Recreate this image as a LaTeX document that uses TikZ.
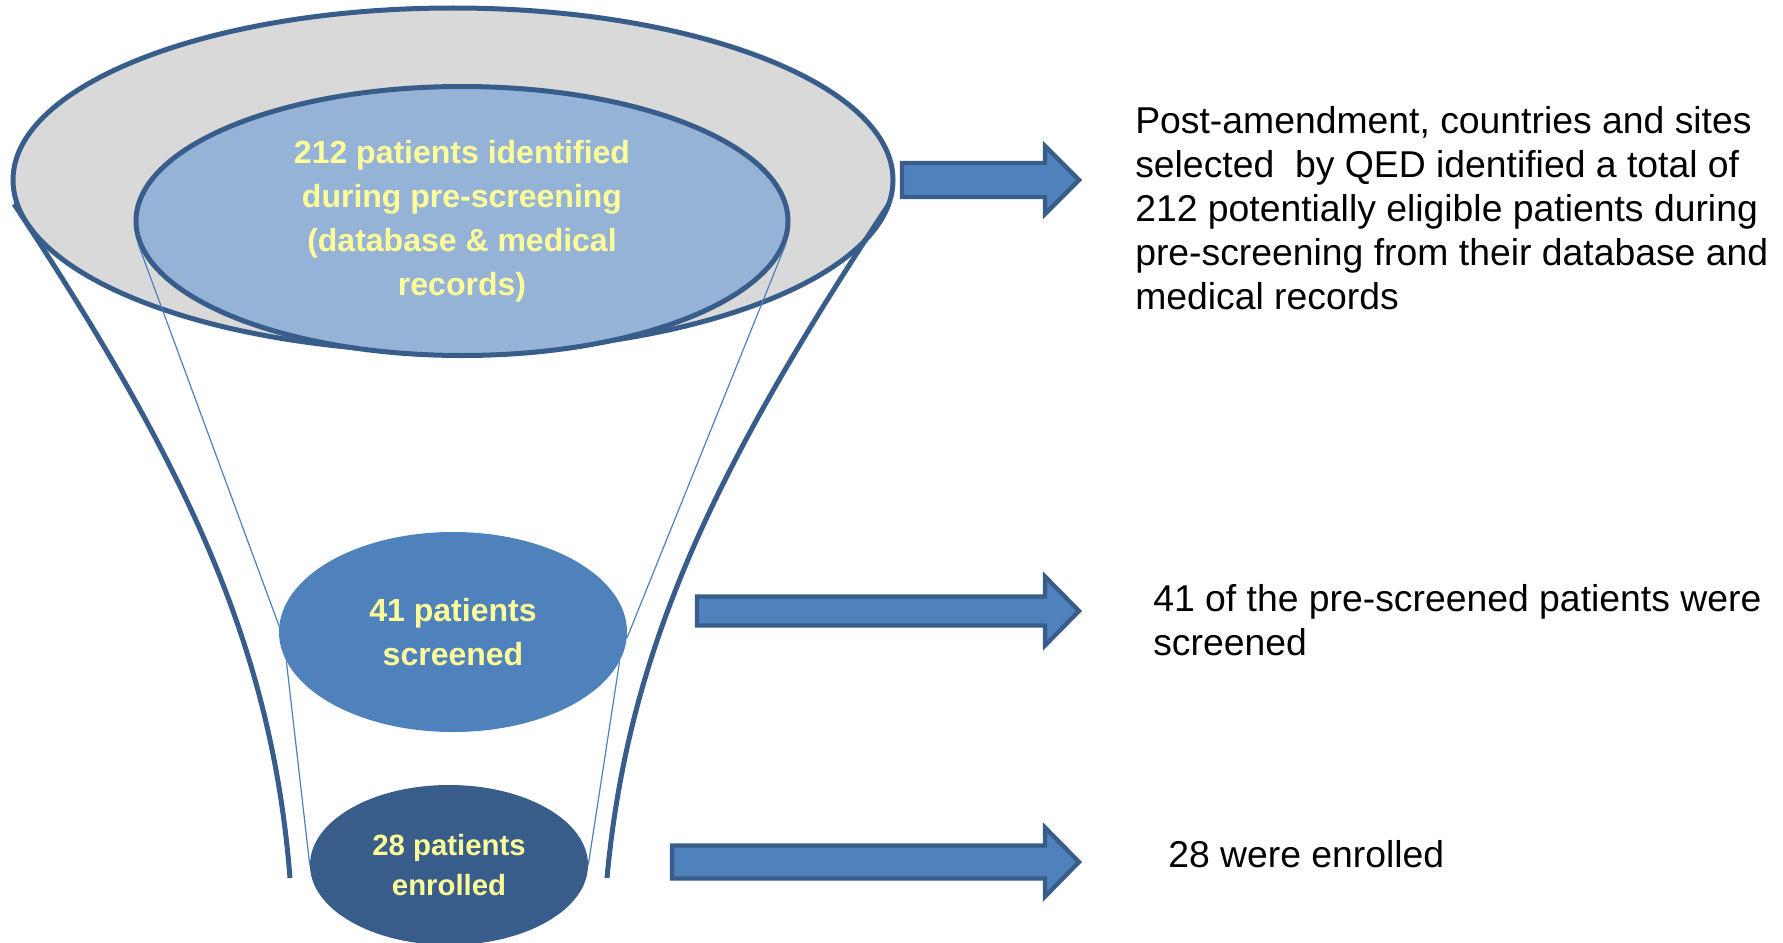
\documentclass[tikz,border=0pt]{standalone}
\usepackage{fontspec}
\setmainfont{Liberation Sans}
\usetikzlibrary{shapes.geometric}
\definecolor{funnelblue}{HTML}{385D8A}
\definecolor{stageblue}{HTML}{4F81BD}
\definecolor{paleblue}{HTML}{95B3D7}
\definecolor{rimgray}{HTML}{D9D9D9}
\definecolor{labelyellow}{HTML}{FFFF99}
\tikzset{
  stage/.style={ellipse, inner sep=0pt, align=center, text=labelyellow,
    font=\bfseries\fontsize{24}{33}\selectfont},
  wall/.style={line width=3.75pt, draw=funnelblue},
  guide/.style={line width=0.9pt, draw=stageblue},
  note/.style={anchor=north west, inner sep=0pt, align=left,
    font=\fontsize{28}{33}\selectfont},
  flow/.style={fill=stageblue, draw=funnelblue, line width=3.25pt, line join=miter},
}
% block arrow: start x, tip x, centre y, half shaft, half head
\newcommand{\blockarrow}[5]{%
  \draw[flow] (#1,#3-#4) -- (#2-34,#3-#4) -- (#2-34,#3-#5) -- (#2,#3)
    -- (#2-34,#3+#5) -- (#2-34,#3+#4) -- (#1,#3+#4) -- cycle;}

\begin{document}
\begin{tikzpicture}[x=0.75pt, y=-0.75pt]
  \useasboundingbox (0,0) rectangle (1783,942);

  % Rim of the funnel
  \node[stage, fill=rimgray, draw=funnelblue, line width=3.75pt,
    minimum width=660pt, minimum height=258pt] (rim) at (453,180) {};

  % Funnel walls
  \draw[wall] (14,204) .. controls (190,470) and (272,650) .. (290,878);
  \draw[wall] (889,204) .. controls (713,470) and (628,650) .. (607,878);

  % Stages
  \node[stage, fill=paleblue, draw=funnelblue, line width=3.75pt,
    minimum width=489pt, minimum height=201.75pt] (prescreen) at (462,221)
    {212 patients identified\\during pre-screening\\(database \& medical\\records)};
  \node[stage, fill=stageblue, minimum width=261pt, minimum height=150pt]
    (screen) at (453,632) {41 patients\\screened};
  \node[stage, fill=funnelblue, minimum width=208.5pt, minimum height=120pt,
    font=\bfseries\fontsize{22}{30}\selectfont] (enrol) at (449,865)
    {28 patients\\enrolled};

  % Thin guides between the stages
  \draw[guide] (prescreen.184) -- (screen.178);
  \draw[guide] (screen.190) -- (enrol.west);
  \draw[guide] (prescreen.-4) -- (screen.-2);
  \draw[guide] (screen.-10) -- (enrol.east);

  % Arrows
  \blockarrow{902}{1079}{180}{17}{34}
  \blockarrow{697}{1079}{611}{14.5}{34.5}
  \blockarrow{672}{1079}{862}{16.5}{34.5}

  % Notes
  \node[note] (prescreennote) at (1135,106)
    {Post-amendment, countries and sites\\selected\ \ by QED identified a total of\\212 potentially eligible patients during\\pre-screening from their database and\\medical records};
  \node[note] (screennote) at (1153,584)
    {41 of the pre-screened patients were\\screened};
  \node[note] (enrolnote) at (1168,840) {28 were enrolled};
\end{tikzpicture}
\end{document}
